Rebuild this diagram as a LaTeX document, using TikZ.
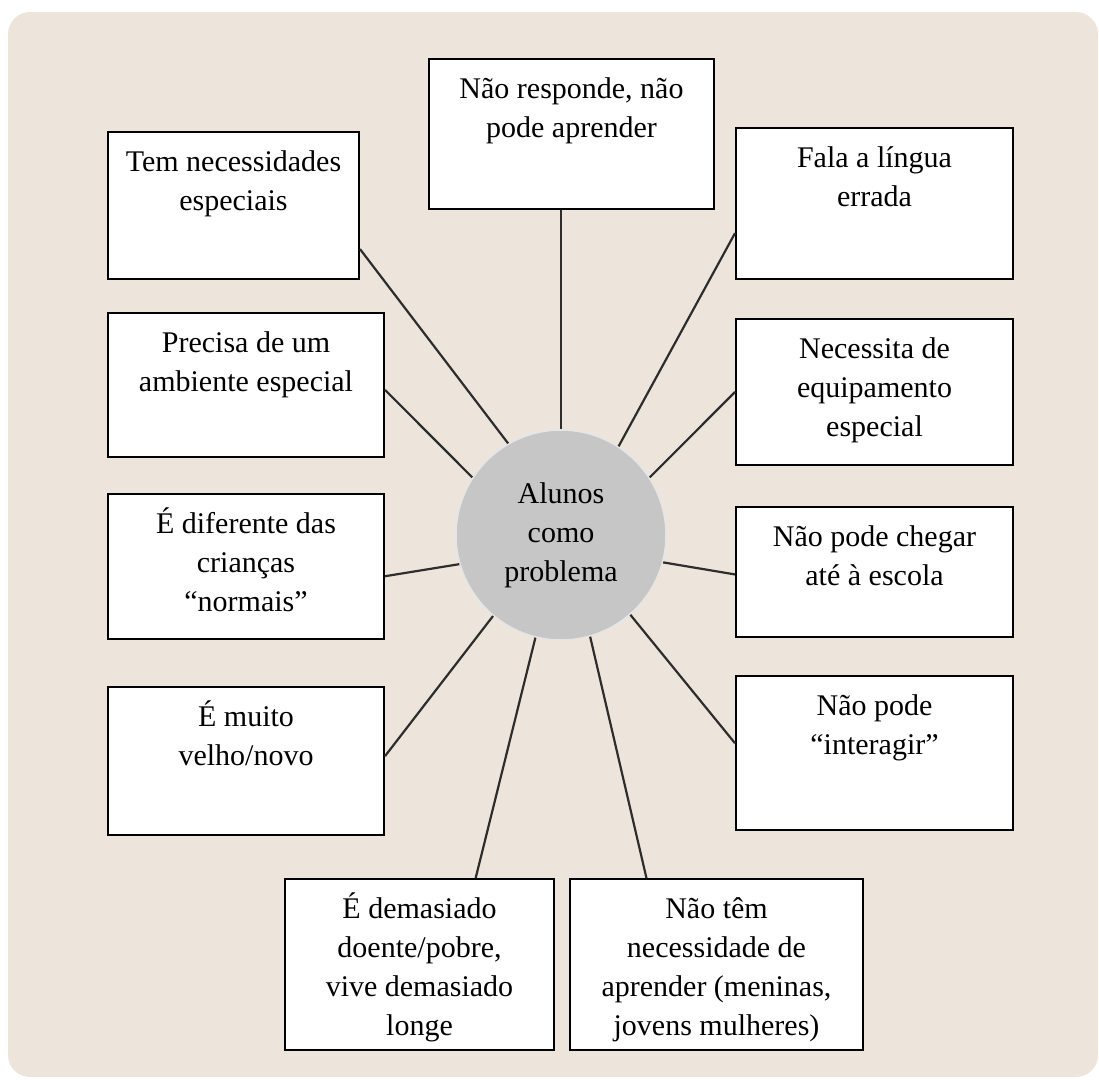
\documentclass[tikz,border=0pt]{standalone}
\usepackage{fontspec}
\setmainfont{Liberation Serif}
\definecolor{paper}{RGB}{237,229,220}
\definecolor{spokegray}{RGB}{45,45,45}
\definecolor{hubgray}{RGB}{198,198,198}
% top aligned text in a box of given width and height
\newcommand{\boxtxt}[3]{\parbox[t][#2][t]{#1}{\centering\rule{0pt}{39pt}#3}}

\begin{document}
\begin{tikzpicture}[x=1pt, y=-1pt,
  probbox/.style={draw, fill=white, line width=2pt, anchor=north west, inner sep=0pt, font=\fontsize{30}{39}\selectfont},
  hub/.style={circle, fill=hubgray, draw=white!80!gray, line width=1.5pt, minimum size=210pt, align=center, font=\fontsize{30}{39}\selectfont},
  spoke/.style={draw=spokegray, line width=2.2pt}]
  \useasboundingbox (0,0) rectangle (1099,1079);
  \fill[paper, rounded corners=22pt] (8,12) rectangle (1098,1077);

  \node[hub] (alunos) at (561,535) {Alunos\\como\\problema};

  \node[probbox] (resp) at (428,58) {\boxtxt{285pt}{150pt}{Não responde, não\\pode aprender}};
  \node[probbox] (tem) at (107,131) {\boxtxt{251pt}{147pt}{Tem necessidades\\especiais}};
  \node[probbox] (fala) at (735,127) {\boxtxt{277pt}{151pt}{Fala a língua\\errada}};
  \node[probbox] (precisa) at (107,312) {\boxtxt{276pt}{144pt}{Precisa de um\\ambiente especial}};
  \node[probbox] (necessita) at (735,318) {\boxtxt{277pt}{146pt}{Necessita de\\equipamento\\especial}};
  \node[probbox] (diferente) at (107,493) {\boxtxt{276pt}{145pt}{É diferente das\\crianças\\“normais”}};
  \node[probbox] (chegar) at (735,506) {\boxtxt{277pt}{130pt}{Não pode chegar\\até à escola}};
  \node[probbox] (velho) at (107,686) {\boxtxt{276pt}{148pt}{É muito\\velho/novo}};
  \node[probbox] (interagir) at (735,675) {\boxtxt{277pt}{154pt}{Não pode\\“interagir”}};
  \node[probbox] (demasiado) at (284,878) {\boxtxt{269pt}{171pt}{É demasiado\\doente/pobre,\\vive demasiado\\longe}};
  \node[probbox] (naotem) at (569,878) {\boxtxt{293pt}{171pt}{Não têm\\necessidade de\\aprender (meninas,\\jovens mulheres)}};

  % spokes
  \draw[spoke] (resp.south -| alunos.north) -- (alunos.north);
  \draw[spoke] (tem.-19) -- (alunos.120);
  \draw[spoke] (fala.192) -- (alunos.57.5);
  \draw[spoke] (precisa.-2.5) -- (alunos.147);
  \draw[spoke] (necessita.180) -- (alunos.33);
  \draw[spoke] (diferente.-4) -- (alunos.196.5);
  \draw[spoke] (chegar.181.7) -- (alunos.-15);
  \draw[spoke] (velho.2.9) -- (alunos.230.5);
  \draw[spoke] (interagir.176.3) -- (alunos.-49);
  \draw[spoke] (demasiado.57) -- (alunos.256.6);
  \draw[spoke] (naotem.129.5) -- (alunos.286);
\end{tikzpicture}
\end{document}
